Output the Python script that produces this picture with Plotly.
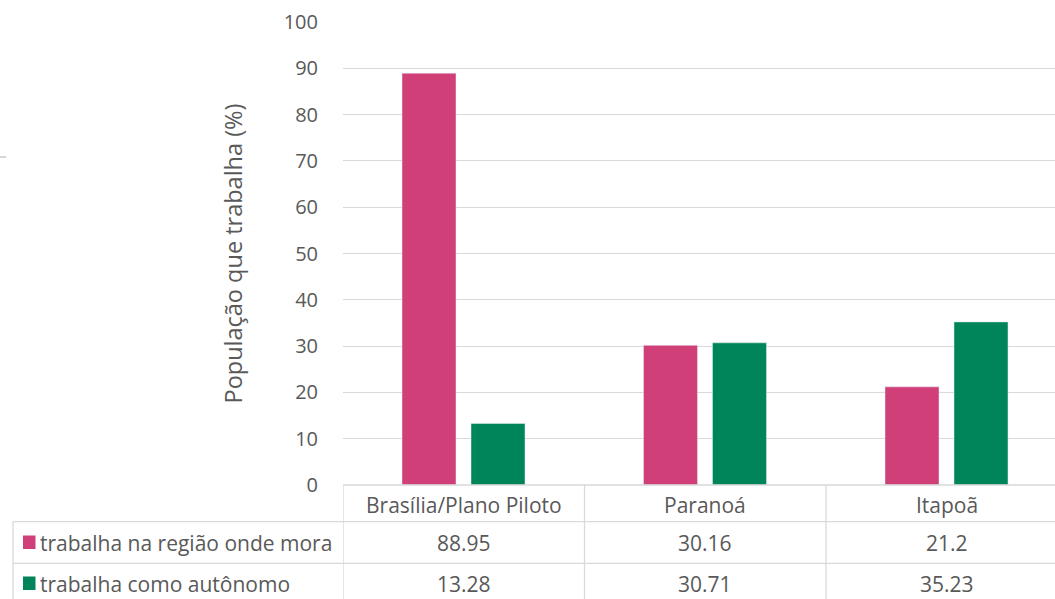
import plotly.graph_objects as go

categories = ["Brasília/Plano Piloto", "Paranoá", "Itapoã"]
series_names = ["trabalha na região onde mora", "trabalha como autônomo"]
values_regiao = [88.95, 30.16, 21.2]
values_autonomo = [13.28, 30.71, 35.23]
y_ticks = [0, 10, 20, 30, 40, 50, 60, 70, 80, 90, 100]

W, H = 1055, 599
L, T, B = 343, 22, 485
PW, PH = W - L, B - T
CAT_PX = 241.5
FONT = "Open Sans"
TXT = "#595959"
GRID = "#d9d9d9"
PINK = "#D13F78"
GREEN = "#00855A"


def px_x(p):
    return (p - L) / PW


def px_y(p):
    return (B - p) / PH


xs = list(range(len(categories)))
bar_w = 54 / CAT_PX

fig = go.Figure()
fig.add_trace(go.Bar(x=xs, y=values_regiao, name=series_names[0], marker_color=PINK,
                     width=bar_w, offset=-61.75 / CAT_PX, showlegend=False))
fig.add_trace(go.Bar(x=xs, y=values_autonomo, name=series_names[1], marker_color=GREEN,
                     width=bar_w, offset=7.25 / CAT_PX, showlegend=False))

shapes = []
line = dict(color=GRID, width=1.3)
# table top border (axis line)
shapes.append(dict(type="line", xref="paper", yref="paper", x0=0, x1=px_x(W), y0=0, y1=0, line=line))
# vertical column separators
for xv in [-0.5, 0.5, 1.5]:
    shapes.append(dict(type="line", xref="x", yref="paper", x0=xv, x1=xv,
                       y0=0, y1=px_y(H + 2), line=line))
# left border of series rows
shapes.append(dict(type="line", xref="paper", yref="paper", x0=px_x(13), x1=px_x(13),
                   y0=px_y(521.7), y1=px_y(H + 2), line=line))
# horizontal row lines
for yp in [521.7, 563.3]:
    shapes.append(dict(type="line", xref="paper", yref="paper", x0=px_x(13), x1=px_x(W),
                       y0=px_y(yp), y1=px_y(yp), line=line))
# small stray mark at left
shapes.append(dict(type="line", xref="paper", yref="paper", x0=px_x(0), x1=px_x(6),
                   y0=px_y(157), y1=px_y(157), line=dict(color="#c8c8c8", width=1.5)))
# legend keys
for col, (y0p, y1p) in zip([PINK, GREEN], [(535.5, 549), (576.5, 590)]):
    shapes.append(dict(type="rect", xref="paper", yref="paper", x0=px_x(23), x1=px_x(35.5),
                       y0=px_y(y1p), y1=px_y(y0p), fillcolor=col, line=dict(width=0)))

annotations = []
fs = 21
for i, c in enumerate(categories):
    annotations.append(dict(x=i, y=px_y(505), xref="x", yref="paper", text=c, showarrow=False,
                            font=dict(family=FONT, size=fs, color=TXT), xanchor="center", yanchor="middle"))
    annotations.append(dict(x=i, y=px_y(542.5), xref="x", yref="paper", text=f"{values_regiao[i]:g}",
                            showarrow=False, font=dict(family=FONT, size=fs, color=TXT),
                            xanchor="center", yanchor="middle"))
    annotations.append(dict(x=i, y=px_y(583.5), xref="x", yref="paper", text=f"{values_autonomo[i]:g}",
                            showarrow=False, font=dict(family=FONT, size=fs, color=TXT),
                            xanchor="center", yanchor="middle"))
for name, yp in zip(series_names, [542.5, 583.5]):
    annotations.append(dict(x=px_x(38), y=px_y(yp), xref="paper", yref="paper", text=name,
                            showarrow=False, font=dict(family=FONT, size=fs, color=TXT),
                            xanchor="left", yanchor="middle"))

fig.update_layout(
    width=W, height=H,
    margin=dict(l=L, r=0, t=T, b=H - B, pad=0),
    paper_bgcolor="white", plot_bgcolor="white",
    shapes=shapes, annotations=annotations,
    xaxis=dict(range=[-0.5, -0.5 + PW / CAT_PX], showticklabels=False, showgrid=False,
               zeroline=False, showline=False, ticks=""),
    yaxis=dict(range=[0, 100], tickvals=y_ticks, showgrid=True, gridcolor=GRID, gridwidth=1.3,
               zeroline=False, showline=False, ticks="", ticklabelstandoff=24,
               tickfont=dict(family=FONT, size=20, color=TXT),
               title=dict(text="População que trabalha (%)", standoff=34,
                          font=dict(family=FONT, size=23.5, color=TXT))),
    font=dict(family=FONT, color=TXT),
)

fig.write_html("out.html")
